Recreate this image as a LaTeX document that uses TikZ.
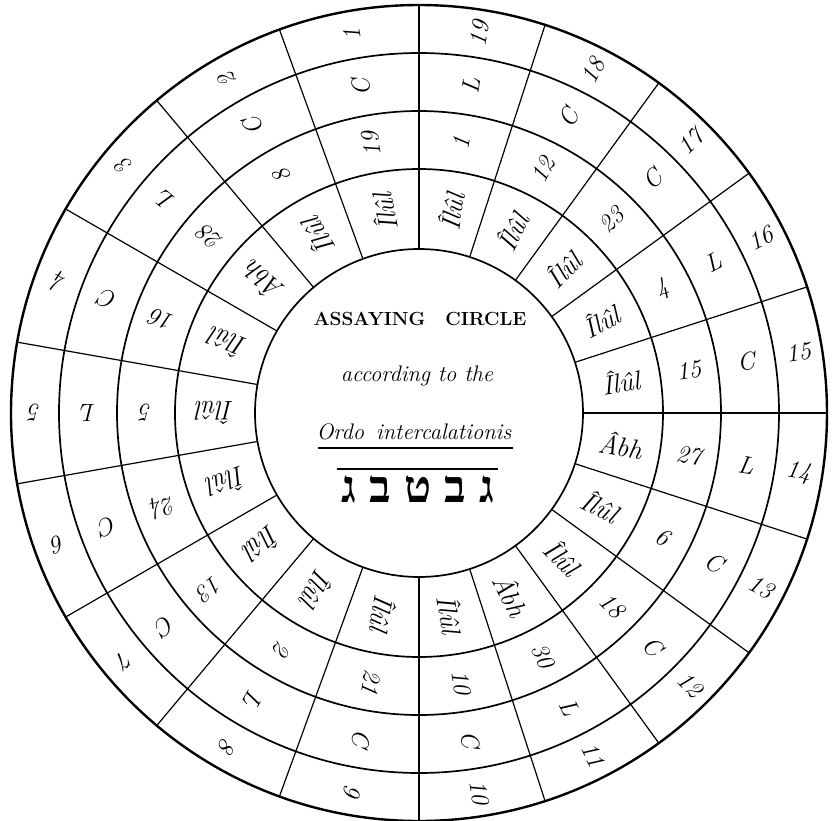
\documentclass[tikz,border=0pt]{standalone}
\usepackage{fontspec}
\usepackage{tikz}
\newfontfamily\hebfont[Script=Hebrew]{Liberation Serif}
\TeXXeTstate=1

\begin{document}
\begin{tikzpicture}[
    x=1pt, y=1pt,
    rim/.style={line width=2.4pt},
    ring/.style={line width=1.7pt},
    spoke/.style={line width=1.2pt},
    cell/.style={font=\fontsize{25}{28}\selectfont\itshape, inner sep=0pt},
    month/.style={cell, font=\fontsize{27}{30}\selectfont\itshape},
    heading/.style={font=\fontsize{19}{22}\selectfont\bfseries\addfontfeature{LetterSpace=7}},
    subtitle/.style={font=\fontsize{22.5}{26}\selectfont\itshape, anchor=base},
    hebrew/.style={font=\fontsize{45}{48}\selectfont\hebfont\bfseries\addfontfeature{LetterSpace=4}, anchor=base},
]
\useasboundingbox (-419,-407) rectangle (414,413);

% Rings
\draw[rim] (0,0) circle (408);
\foreach \r in {164,244,302,360}
    \draw[ring] (0,0) circle (\r);

% Spokes (20 deg on the left, 18 deg on the right)
\foreach \a in {90,110,...,270}
    \draw[spoke] (\a:164) -- (\a:408);
\foreach \a in {288,306,...,432}
    \draw[spoke] (\a:164) -- (\a:408);

% Entries: year / letter / day / month
\foreach \n/\a/\lt/\dy/\mo in {
    1/100/C/19/Îlûl, 2/120/C/8/Îlûl, 3/140/L/28/Âbh, 4/160/C/16/Îlûl,
    5/180/L/5/Îlûl, 6/200/C/24/Îlûl, 7/220/C/13/Îlûl, 8/240/L/2/Îlûl,
    9/260/C/21/Îlûl, 10/279/C/10/Îlûl, 11/297/L/30/Âbh, 12/315/C/18/Îlûl,
    13/333/C/6/Îlûl, 14/351/L/27/Âbh, 15/9/C/15/Îlûl, 16/27/L/4/Îlûl,
    17/45/C/23/Îlûl, 18/63/C/12/Îlûl, 19/81/L/1/Îlûl} {
  \node[cell, rotate=\a] (yr\n) at (\a:384) {\n};
  \node[cell, rotate=\a] (lt\n) at (\a:331) {\lt};
  \node[cell, rotate=\a] (dy\n) at (\a:273) {\dy};
  \node[month, rotate=\a] (mo\n) at (\a:204) {\mo};
}

% Centre
\node[heading] (head) at (1,94) {ASSAYING\hspace{20pt}CIRCLE};
\node[subtitle] (acc) at (-2,32) {according to the};
\node[subtitle] (ordo) at (-5,-26) {Ordo\hspace{12pt}intercalationis};
\draw[line width=1.2pt] (-101,-35) -- (94,-35);
\draw[line width=1.2pt] (-82,-56) -- (79,-56);
\node[hebrew] (heb) at (-1,-89) {\beginR ג ב ט ב ג\endR};
\end{tikzpicture}
\end{document}
